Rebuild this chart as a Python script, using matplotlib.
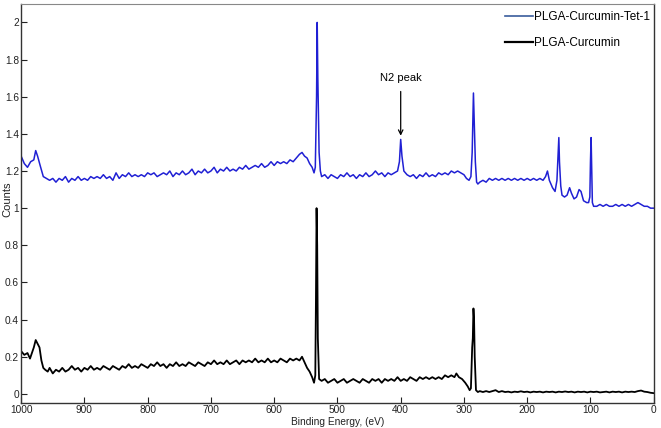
import numpy as np
import matplotlib
matplotlib.use("Agg")
import matplotlib.pyplot as plt
from matplotlib.lines import Line2D

plt.rcParams['font.family'] = ['Liberation Sans', 'DejaVu Sans']

# ---- data (binding energy in eV, normalized counts) ----
tet_energy = [
    1000, 995, 990, 985, 980, 977, 974, 970, 965, 960,
    955, 950, 945, 940, 935, 930, 925, 920, 915, 910,
    905, 900, 895, 890, 885, 880, 875, 870, 865, 860,
    855, 850, 845, 840, 835, 830, 825, 820, 815, 810,
    805, 800, 795, 790, 785, 780, 775, 770, 765, 760,
    755, 750, 745, 740, 735, 730, 725, 720, 715, 710,
    705, 700, 695, 690, 685, 680, 675, 670, 665, 660,
    655, 650, 645, 640, 635, 630, 625, 620, 615, 610,
    605, 600, 595, 590, 585, 580, 575, 570, 565, 560,
    556, 552, 548, 544, 540, 537, 535, 533, 532, 531, 529, 527,
    525, 520, 515, 510, 505, 500, 495, 490, 485, 480,
    475, 470, 465, 460, 455, 450, 445, 440, 435, 430,
    425, 420, 415, 410, 405, 402, 400, 398, 395, 390,
    385, 380, 375, 370, 365, 360, 355, 350, 345, 340,
    335, 330, 325, 320, 315, 310, 305, 300, 296, 292,
    289, 287, 285, 284, 282, 280, 278,
    275, 270, 265, 260, 255, 250, 245, 240, 235, 230,
    225, 220, 215, 210, 205, 200, 195, 190, 185, 180,
    175, 171, 168, 165, 160, 156, 153, 151, 150, 149, 147,
    145, 141, 137, 133, 130, 126, 122, 118, 115, 111,
    106, 103, 101, 100, 99, 98, 97, 95,
    90, 85, 80, 75, 70, 65, 60, 55, 50, 45, 40, 35,
    30, 25, 20, 15, 10, 5, 0,
]
tet_counts = [
    1.28, 1.24, 1.22, 1.25, 1.26, 1.31, 1.28, 1.23, 1.17, 1.16,
    1.15, 1.16, 1.14, 1.16, 1.15, 1.17, 1.14, 1.16, 1.15, 1.17,
    1.15, 1.16, 1.15, 1.17, 1.16, 1.17, 1.16, 1.18, 1.16, 1.17,
    1.15, 1.19, 1.16, 1.18, 1.17, 1.19, 1.17, 1.18, 1.17, 1.18,
    1.17, 1.19, 1.18, 1.19, 1.17, 1.18, 1.19, 1.18, 1.20, 1.17,
    1.19, 1.18, 1.20, 1.18, 1.19, 1.21, 1.18, 1.20, 1.19, 1.21,
    1.19, 1.20, 1.22, 1.19, 1.21, 1.20, 1.22, 1.20, 1.21, 1.20,
    1.22, 1.21, 1.23, 1.21, 1.22, 1.23, 1.22, 1.24, 1.22, 1.23,
    1.25, 1.23, 1.25, 1.24, 1.25, 1.24, 1.26, 1.25, 1.27, 1.29,
    1.30, 1.28, 1.27, 1.24, 1.22, 1.19, 1.22, 1.60, 2.00, 1.70, 1.30, 1.20,
    1.17, 1.18, 1.16, 1.18, 1.17, 1.16, 1.18, 1.17, 1.19, 1.17,
    1.18, 1.16, 1.18, 1.17, 1.19, 1.17, 1.18, 1.20, 1.18, 1.19,
    1.17, 1.19, 1.18, 1.19, 1.20, 1.25, 1.37, 1.28, 1.20, 1.18,
    1.17, 1.18, 1.16, 1.18, 1.17, 1.19, 1.17, 1.18, 1.17, 1.19,
    1.18, 1.19, 1.18, 1.20, 1.19, 1.20, 1.19, 1.18, 1.16, 1.15,
    1.17, 1.30, 1.62, 1.50, 1.25, 1.14, 1.13,
    1.14, 1.15, 1.14, 1.16, 1.15, 1.16, 1.15, 1.16, 1.15, 1.16,
    1.15, 1.16, 1.15, 1.16, 1.15, 1.16, 1.15, 1.16, 1.15, 1.16,
    1.15, 1.17, 1.20, 1.15, 1.11, 1.09, 1.15, 1.30, 1.38, 1.25, 1.12,
    1.07, 1.06, 1.07, 1.11, 1.08, 1.05, 1.06, 1.10, 1.09, 1.04,
    1.03, 1.03, 1.06, 1.25, 1.38, 1.20, 1.03, 1.01,
    1.01, 1.02, 1.01, 1.02, 1.01, 1.01, 1.02, 1.01, 1.02, 1.01, 1.02, 1.01,
    1.02, 1.03, 1.02, 1.01, 1.01, 1.00, 1.00,
]

cur_energy = [
    1000, 995, 990, 986, 983, 980, 977, 974, 971, 968, 965, 962,
    958, 955, 950, 945, 940, 935, 930, 925, 920, 915, 910,
    905, 900, 895, 890, 885, 880, 875, 870, 865, 860, 855,
    850, 845, 840, 835, 830, 825, 820, 815, 810, 805, 800,
    795, 790, 785, 780, 775, 770, 765, 760, 755, 750, 745,
    740, 735, 730, 725, 720, 715, 710, 705, 700, 695, 690,
    685, 680, 675, 670, 665, 660, 655, 650, 645, 640, 635,
    630, 625, 620, 615, 610, 605, 600, 595, 590, 585, 580,
    575, 570, 565, 560, 556, 552, 548, 544, 540, 537, 535, 534, 533, 532, 531, 529,
    525, 520, 515, 510, 505, 500, 495, 490, 485, 480, 475,
    470, 465, 460, 455, 450, 445, 440, 435, 430, 425, 420,
    415, 410, 405, 400, 395, 390, 385, 380, 375, 370, 365,
    360, 355, 350, 345, 340, 335, 330, 325, 320, 315, 312, 308,
    303, 298, 294, 291, 289, 287, 286, 285, 284, 283, 281,
    278, 275, 270, 265, 260, 255, 250, 245, 240, 235,
    230, 225, 220, 215, 210, 205, 200, 195, 190, 185,
    180, 175, 170, 165, 160, 155, 150, 145, 140, 135,
    130, 125, 120, 115, 110, 105, 100, 95, 90, 85,
    80, 75, 70, 65, 60, 55, 50, 45, 40, 35,
    30, 25, 20, 15, 10, 5, 0,
]
cur_counts = [
    0.23, 0.21, 0.22, 0.19, 0.22, 0.25, 0.29, 0.27, 0.25, 0.18, 0.14, 0.13,
    0.12, 0.14, 0.11, 0.13, 0.12, 0.14, 0.12, 0.13, 0.15, 0.13, 0.14,
    0.12, 0.14, 0.13, 0.15, 0.13, 0.14, 0.13, 0.15, 0.14, 0.13, 0.15,
    0.14, 0.13, 0.15, 0.14, 0.16, 0.14, 0.15, 0.14, 0.16, 0.15, 0.14,
    0.16, 0.15, 0.17, 0.15, 0.16, 0.14, 0.16, 0.15, 0.17, 0.15, 0.16,
    0.15, 0.17, 0.16, 0.15, 0.17, 0.16, 0.15, 0.17, 0.16, 0.18, 0.16,
    0.17, 0.16, 0.18, 0.16, 0.17, 0.18, 0.16, 0.18, 0.17, 0.18, 0.17,
    0.19, 0.17, 0.18, 0.17, 0.19, 0.17, 0.18, 0.17, 0.19, 0.18, 0.17,
    0.19, 0.18, 0.19, 0.18, 0.20, 0.17, 0.14, 0.12, 0.09, 0.06, 0.10, 0.50, 1.00, 0.80, 0.30, 0.08,
    0.07, 0.08, 0.06, 0.07, 0.08, 0.06, 0.07, 0.08, 0.06, 0.07, 0.08,
    0.07, 0.06, 0.08, 0.07, 0.06, 0.08, 0.07, 0.08, 0.06, 0.08, 0.07,
    0.08, 0.07, 0.09, 0.07, 0.08, 0.07, 0.09, 0.08, 0.07, 0.09, 0.08,
    0.09, 0.08, 0.09, 0.08, 0.09, 0.08, 0.10, 0.09, 0.10, 0.09, 0.11, 0.09,
    0.08, 0.06, 0.04, 0.02, 0.03, 0.25, 0.30, 0.46, 0.40, 0.20, 0.02,
    0.010, 0.015, 0.010, 0.015, 0.010, 0.015, 0.020, 0.010, 0.015, 0.010,
    0.012, 0.008, 0.012, 0.010, 0.014, 0.010, 0.012, 0.008, 0.012, 0.010,
    0.012, 0.008, 0.012, 0.010, 0.012, 0.008, 0.012, 0.010, 0.013, 0.010,
    0.012, 0.008, 0.012, 0.010, 0.012, 0.008, 0.012, 0.010, 0.012, 0.008,
    0.010, 0.012, 0.008, 0.012, 0.010, 0.012, 0.008, 0.012, 0.010, 0.012,
    0.010, 0.015, 0.018, 0.012, 0.010, 0.006, 0.004,
]

series_labels = ["PLGA-Curcumin-Tet-1", "PLGA-Curcumin"]
x_ticks = [1000, 900, 800, 700, 600, 500, 400, 300, 200, 100, 0]
y_ticks = [0, 0.2, 0.4, 0.6, 0.8, 1, 1.2, 1.4, 1.6, 1.8, 2]
y_tick_labels = ["0", "0.2", "0.4", "0.6", "0.8", "1", "1.2", "1.4", "1.6", "1.8", "2"]
annot_text = "N2 peak"
annot_x = 400
annot_y_tip = 1.39
annot_y_text = 1.70

# ---- figure ----
fig = plt.figure(figsize=(6.61, 4.28), dpi=100)
ax = fig.add_axes([0.032, 0.058, 0.957, 0.933])

ax.plot(tet_energy, tet_counts, color='#2020d4', lw=1.1)
ax.plot(cur_energy, cur_counts, color='black', lw=1.3)

ax.set_xlim(1000, 0)
ax.set_ylim(-0.05, 2.1)
ax.set_xticks(x_ticks)
ax.set_xticklabels([str(t) for t in x_ticks])
ax.set_yticks(y_ticks)
ax.set_yticklabels(y_tick_labels)
ax.tick_params(direction='in', length=4, width=0.8, labelsize=7.3, pad=1.5,
               colors='#222222')

for side in ['left', 'bottom', 'right']:
    ax.spines[side].set_color('#333333')
    ax.spines[side].set_linewidth(1.0)
ax.spines['top'].set_color('#888888')

ax.set_xlabel("Binding Energy, (eV)", fontsize=7.3, labelpad=1, color='#222222')
ax.set_ylabel("Counts", fontsize=8, color='#222222')
ax.yaxis.set_label_coords(-0.014, 0.51)

ax.annotate(annot_text, xy=(annot_x, annot_y_tip), xytext=(annot_x, annot_y_text),
            ha='center', va='center', fontsize=8,
            arrowprops=dict(arrowstyle='->', color='black', lw=0.9,
                            shrinkA=4, shrinkB=0))

handles = [Line2D([0], [0], color='#3a5c9c', lw=1.2),
           Line2D([0], [0], color='black', lw=1.6)]
ax.legend(handles, series_labels, loc='upper right', frameon=False, fontsize=8.5,
          handlelength=2.3, handletextpad=0.1, labelspacing=1.2,
          borderaxespad=0.2, bbox_to_anchor=(1.005, 1.0))

fig.savefig("out.png", dpi=100)
